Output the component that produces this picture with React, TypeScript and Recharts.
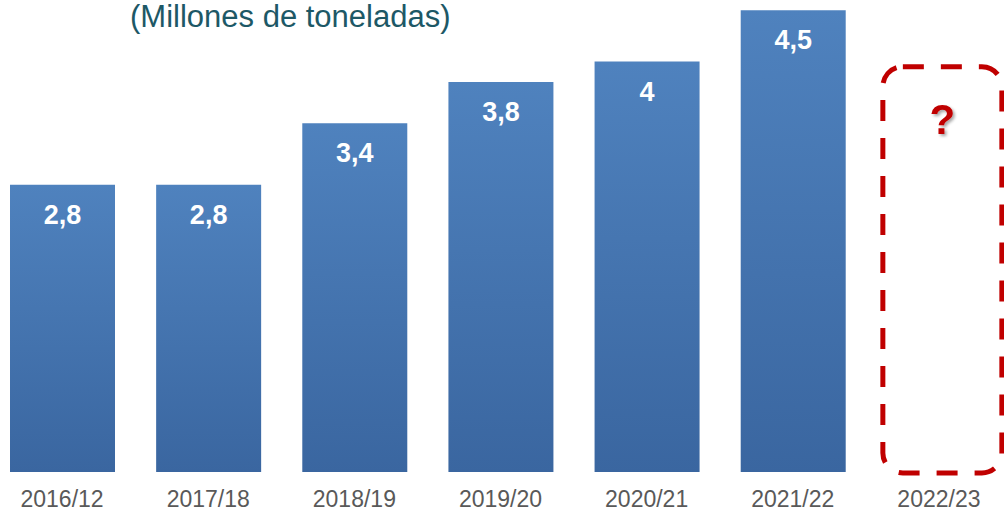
import { BarChart, Bar, XAxis, YAxis, LabelList } from "recharts";

const categories = ["2016/12", "2017/18", "2018/19", "2019/20", "2020/21", "2021/22", "2022/23"];
const produccion = [2.8, 2.8, 3.4, 3.8, 4, 4.5, null];
// campaña sin dato: se dibuja como recuadro punteado con "?"
const pendiente = [null, null, null, null, null, null, 3.95];

const data = categories.map((c, i) => ({
  campana: c,
  valor: produccion[i],
  pendiente: pendiente[i],
}));

const fmt = (v: unknown) => (v == null ? "" : String(v).replace(".", ","));

function DashedBox(props: any) {
  const { x, y, width, height } = props;
  if (height == null || height <= 0) return null;
  return (
    <rect
      x={x - 4}
      y={y}
      width={width + 14}
      height={height + 1}
      rx={20}
      ry={20}
      fill="none"
      stroke="#c00000"
      strokeWidth={5}
      strokeDasharray="21 17"
    />
  );
}

export default function App() {
  return (
    <div style={{ position: "absolute", left: 0, top: 0, width: 1004, height: 511, overflow: "hidden", background: "#fff" }}>
      <div
        style={{
          position: "absolute",
          left: 130,
          top: 1,
          fontFamily: "'Liberation Sans', Arial, sans-serif",
          fontSize: 31,
          lineHeight: "32px",
          color: "#1d5866",
          whiteSpace: "nowrap",
        }}
      >
        (Millones de toneladas)
      </div>
      <div style={{ position: "absolute", left: -11, top: 0 }}>
        <BarChart
          width={1023}
          height={511}
          data={data}
          margin={{ top: 0, right: 0, bottom: 0, left: 0 }}
          barSize={105}
          style={{ fontFamily: "'Liberation Sans', Arial, sans-serif" }}
        >
          <defs>
            <linearGradient id="barFill" x1="0" y1="0" x2="0" y2="1">
              <stop offset="0%" stopColor="#4f82be" />
              <stop offset="100%" stopColor="#3a66a0" />
            </linearGradient>
            <filter id="qShadow" x="-50%" y="-50%" width="200%" height="200%">
              <feDropShadow dx="2" dy="2" stdDeviation="1.5" floodColor="#000" floodOpacity="0.35" />
            </filter>
          </defs>
          <XAxis
            dataKey="campana"
            axisLine={false}
            tickLine={false}
            tickSize={0}
            tickMargin={19}
            height={39}
            interval={0}
            tick={{ fill: "#595959", fontSize: 23 }}
          />
          <YAxis hide domain={[0, 4.6]} />
          <Bar dataKey="valor" stackId="a" fill="url(#barFill)" isAnimationActive={false}>
            <LabelList
              dataKey="valor"
              position="insideTop"
              offset={20}
              formatter={fmt}
              fill="#fff"
              fontSize={27}
              fontWeight="bold"
            />
          </Bar>
          <Bar dataKey="pendiente" stackId="a" shape={<DashedBox />} isAnimationActive={false}>
            <LabelList
              dataKey="pendiente"
              position="insideTop"
              offset={37}
              formatter={(v: unknown) => (v == null ? "" : "?")}
              fill="#c00000"
              fontSize={42}
              fontWeight="bold"
              filter="url(#qShadow)"
              dx={3}
            />
          </Bar>
        </BarChart>
      </div>
    </div>
  );
}
